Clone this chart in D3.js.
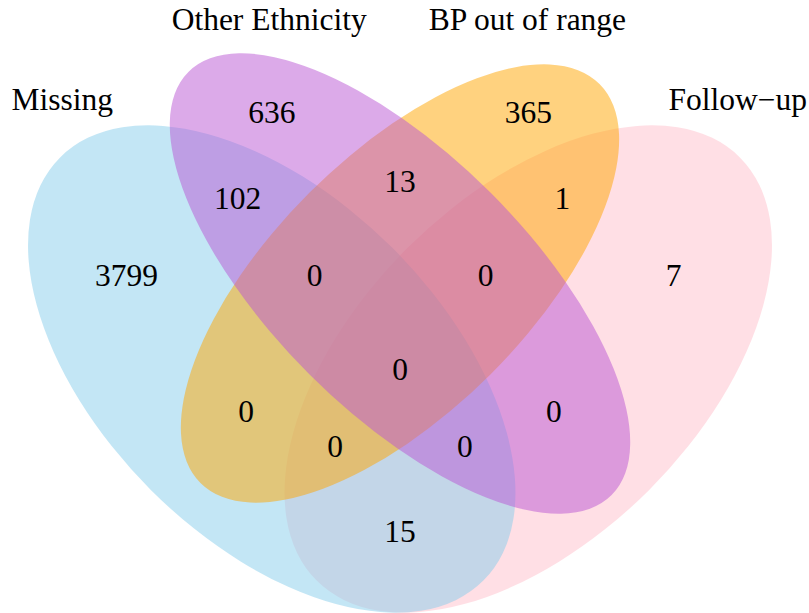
<!DOCTYPE html>
<html>
<head>
<meta charset="utf-8">
<script src="https://cdn.jsdelivr.net/npm/d3@7"></script>
<style>
  body { margin: 0; background: #fff; }
  text { font-family: "Liberation Serif", "Times New Roman", serif; }
</style>
</head>
<body>
<div id="venn"></div>
<script>
// set names and colours (order = drawing order in the original)
var setKeys = ["F", "M", "B", "O"]
var setNames = ["Follow−up", "Missing", "BP out of range", "Other Ethnicity"]
var setColors = ["pink", "skyblue", "orange", "mediumorchid"]

// region counts, keyed by the sets they belong to
var regions = ["M", "O", "B", "F", "MO", "MB", "MF", "OB", "OF", "BF", "MOB", "MOF", "MBF", "OBF", "MOBF"]
var counts = [3799, 636, 365, 7, 102, 0, 15, 13, 0, 1, 0, 0, 0, 0, 0]

// layout in unit coords (like VennDiagram's quad layout)
var ellipses = {
    F: { x: 0.65, y: 0.47, a: 0.35, b: 0.20, rot: 45 },
    M: { x: 0.35, y: 0.47, a: 0.35, b: 0.20, rot: 135 },
    B: { x: 0.50, y: 0.57, a: 0.33, b: 0.15, rot: 45 },
    O: { x: 0.50, y: 0.57, a: 0.35, b: 0.15, rot: 135 }
}
var labelPos = {
    M: [0.18, 0.58], O: [0.35, 0.77], B: [0.65, 0.77], F: [0.82, 0.58],
    MO: [0.31, 0.67], MB: [0.32, 0.42], MF: [0.5, 0.28], OB: [0.5, 0.69],
    OF: [0.68, 0.42], BF: [0.69, 0.67], MOB: [0.40, 0.58], MOF: [0.576, 0.38],
    MBF: [0.424, 0.38], OBF: [0.60, 0.58], MOBF: [0.5, 0.47]
}
var catPos = {
    M: [0.105, 0.786], O: [0.347, 0.879], B: [0.649, 0.879], F: [0.895, 0.786]
}

var dimensions = { width: 809, height: 613, unit: 855 }

// unit square -> pixels
var x = d3.scaleLinear().domain([0.5, 1.5]).range([400, 400 + dimensions.unit])
var y = d3.scaleLinear().domain([0.57, 1.57]).range([283.5, 283.5 - dimensions.unit])

const svg = d3.select("#venn")
    .append("svg")
    .attr("width", dimensions.width)
    .attr("height", dimensions.height)

//ellipses
svg.append("g")
    .selectAll("ellipse")
    .data(setKeys)
    .enter()
    .append("ellipse")
    .attr("cx", 0)
    .attr("cy", 0)
    .attr("rx", d => x(ellipses[d].a) - x(0))
    .attr("ry", d => x(ellipses[d].b) - x(0))
    .attr("transform", d => `translate(${x(ellipses[d].x)},${y(ellipses[d].y)}) rotate(${-ellipses[d].rot})`)
    .style("fill", (d, i) => setColors[i])
    .style("fill-opacity", 0.5)
    .style("stroke", "none")

//counts
svg.append("g")
    .selectAll("text")
    .data(regions)
    .enter()
    .append("text")
    .attr("x", d => x(labelPos[d][0]))
    .attr("y", d => y(labelPos[d][1]))
    .attr("dy", "0.34em")
    .attr("text-anchor", "middle")
    .attr("font-size", "31.5px")
    .text((d, i) => counts[i])

//category names
svg.append("g")
    .selectAll("text")
    .data(setKeys)
    .enter()
    .append("text")
    .attr("x", d => x(catPos[d][0]))
    .attr("y", d => y(catPos[d][1]))
    .attr("dy", "0.34em")
    .attr("text-anchor", "middle")
    .attr("font-size", "31.5px")
    .text((d, i) => setNames[i])
</script>
</body>
</html>
